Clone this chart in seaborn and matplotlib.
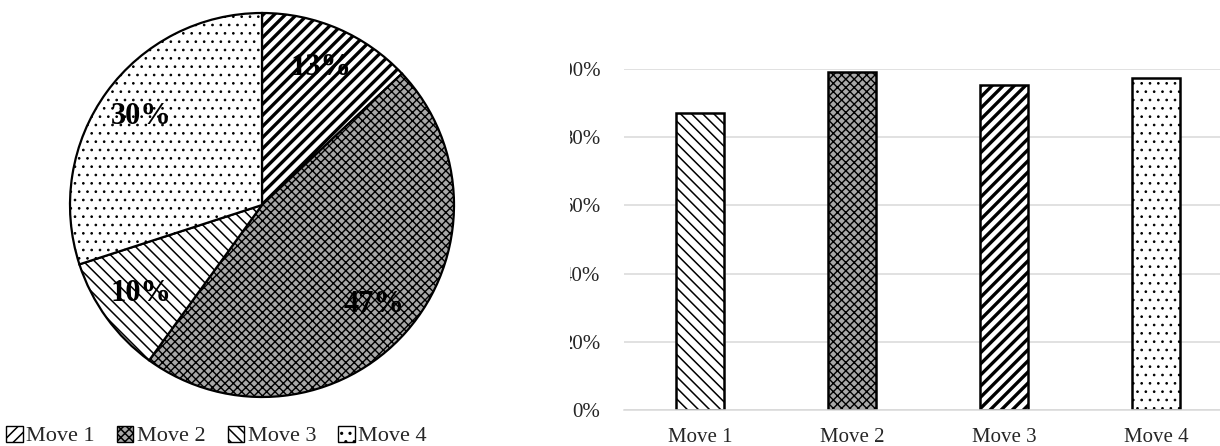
import matplotlib
matplotlib.use("Agg")
import matplotlib.pyplot as plt
import seaborn as sns
import pandas as pd
from matplotlib.patches import Patch, Rectangle
from matplotlib.ticker import PercentFormatter

# data
moves = ["Move 1", "Move 2", "Move 3", "Move 4"]
pie_share = [13, 47, 10, 30]
bar_share = [0.872, 0.992, 0.953, 0.973]
y_ticks = [0.0, 0.2, 0.4, 0.6, 0.8, 1.0]

# fill styles: (face, hatch, hatch line width)
pie_style = [("white", "///", 2.4), ("#a8a8a8", "xxxx", 1.0),
             ("white", "\\\\\\", 1.1), ("white", "..", 0.7)]
bar_style = [("white", "\\\\\\", 1.1), ("#a8a8a8", "xxxx", 1.0),
             ("white", "///", 2.4), ("white", "..", 0.7)]

sns.set_theme(style="white")
plt.rcParams["font.family"] = ["Liberation Serif", "DejaVu Serif"]
plt.rcParams["hatch.linewidth"] = 1.1
plt.rcParams["hatch.color"] = "black"


def apply_style(patch, style):
    face, hatch, hlw = style
    patch.set_facecolor(face)
    patch.set_hatch(hatch)
    if hasattr(patch, "set_hatch_linewidth"):
        patch.set_hatch_linewidth(hlw)


fig = plt.figure(figsize=(12.2, 4.46), dpi=100)
W, H = 1220, 446

# Pie chart (left)
r = 192
cx, cy = 262, 205
half = r * 1.02
ax1 = fig.add_axes([(cx - half) / W, (H - cy - half) / H, 2 * half / W, 2 * half / H])
wedges, texts, autotexts = ax1.pie(
    pie_share, startangle=90, counterclock=False,
    colors=["white"] * 4, autopct="%.0f%%", pctdistance=0.78,
    wedgeprops=dict(edgecolor="black", linewidth=1.6),
    textprops=dict(fontsize=22, fontweight="bold", color="black"),
)
for w, st in zip(wedges, pie_style):
    apply_style(w, st)
for t in autotexts:
    t.set_zorder(5)
ax1.set_xlim(-1.02, 1.02)
ax1.set_ylim(-1.02, 1.02)

# legend under the pie
handles = []
for st, m in zip(pie_style, moves):
    hp = Patch(edgecolor="black", label=m)
    apply_style(hp, st)
    handles.append(hp)
fig.legend(handles=handles, loc="center left", bbox_to_anchor=(0.003, 10 / H),
           ncol=4, frameon=False, fontsize=16, handlelength=0.75, handleheight=0.75,
           handletextpad=0.15, columnspacing=1.0, borderpad=0.1, borderaxespad=0)

# Bar chart (right)
ax2 = fig.add_axes([624 / W, 36 / H, 608 / W, 341 / H])
df = pd.DataFrame({"move": moves, "share": bar_share})
sns.barplot(data=df, x="move", y="share", ax=ax2, color="white", width=0.32,
            edgecolor="black", linewidth=1.8, saturation=1)
for p, st in zip(ax2.patches, bar_style):
    apply_style(p, st)
ax2.set_xlim(-0.5, 3.5)
ax2.set_ylim(0, 1)
ax2.set_yticks(y_ticks)
ax2.yaxis.set_major_formatter(PercentFormatter(1.0, decimals=0))
ax2.grid(axis="y", color="#d9d9d9", linewidth=1.1)
ax2.set_axisbelow(True)
for s in ["left", "right", "top"]:
    ax2.spines[s].set_visible(False)
ax2.spines["bottom"].set_color("#d9d9d9")
ax2.spines["bottom"].set_linewidth(1.1)
ax2.tick_params(axis="y", length=0, pad=17, labelsize=15)
ax2.tick_params(axis="x", length=0, pad=13, labelsize=15)
ax2.set_xlabel("")
ax2.set_ylabel("")

# the left part of the y labels is hidden in the reference
fig.patches.append(Rectangle((462 / W, 26 / H), (570 - 462) / W, 380 / H,
                             transform=fig.transFigure, facecolor="white",
                             edgecolor="none", zorder=5))

fig.savefig("out.png", dpi=100)
